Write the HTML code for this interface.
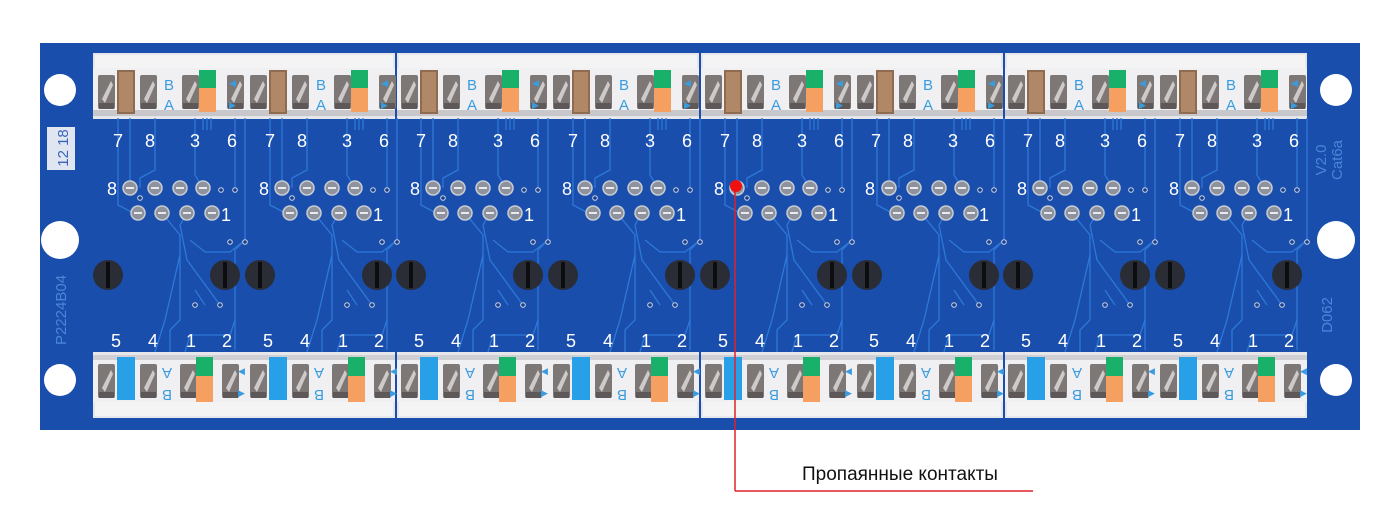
<!DOCTYPE html>
<html><head><meta charset="utf-8"><style>
html,body{margin:0;padding:0;background:#fff;width:1400px;height:512px;overflow:hidden}
svg{display:block}
</style></head><body>
<svg id="s" width="1400" height="512" viewBox="0 0 1400 512" xmlns="http://www.w3.org/2000/svg" font-family="Liberation Sans, sans-serif">
<rect x="40" y="43" width="1320" height="387" fill="#1a4ead"/>
<g fill="#fff">
<circle cx="60" cy="90" r="16"/><circle cx="60" cy="240" r="19"/><circle cx="60" cy="380" r="16"/>
<circle cx="1336" cy="90" r="16"/><circle cx="1336" cy="240" r="19"/><circle cx="1336" cy="380" r="16"/>
</g>
<g id="g"></g>
<rect x="47" y="127" width="28" height="43" fill="#dfe6f2"/>
<text transform="translate(68,148) rotate(-90)" font-size="15" fill="#3a64b6" text-anchor="middle">12 18</text>
<text transform="translate(66,310) rotate(-90)" font-size="15" fill="#4a86d8" text-anchor="middle">P2224B04</text>
<text transform="translate(1326,160) rotate(-90)" font-size="15" fill="#4a86d8" text-anchor="middle">V2.0</text>
<text transform="translate(1342,160) rotate(-90)" font-size="15" fill="#4a86d8" text-anchor="middle">Cat6a</text>
<text transform="translate(1332,315) rotate(-90)" font-size="15" fill="#4a86d8" text-anchor="middle">D062</text>
<g fill="#fff" font-size="18" text-anchor="middle">
<text y="147" x="118 150 195 232 270 302 347 384 421 453 498 535 573 605 650 687 725 757 802 839 876 908 953 990 1028 1060 1105 1142 1180 1212 1257 1294">78367836783678367836783678367836</text>
<text y="195" x="112 264 415 567 719 870 1022 1174">88888888</text>
<text y="221" x="226 378 529 681 833 984 1136 1288">11111111</text>
<text y="347" x="116 153 191 227 268 305 343 379 419 456 494 530 571 608 646 682 723 760 798 834 874 911 949 985 1026 1063 1101 1137 1178 1215 1253 1289">54125412541254125412541254125412</text>
</g>
<line x1="735" y1="186" x2="735" y2="491" stroke="#e0202a" stroke-width="1.5"/>
<line x1="735" y1="491" x2="1033" y2="491" stroke="#e0202a" stroke-width="1.5"/>
<circle cx="736" cy="186" r="6" fill="#f01010"/>
<text x="802" y="480" font-size="19" fill="#111">Пропаянные контакты</text>
</svg>
<script>
var g=document.getElementById('g'),h='';
function R(x,y,w,hh,f,extra){h+='<rect x="'+x+'" y="'+y+'" width="'+w+'" height="'+hh+'" fill="'+f+'" '+(extra||'')+'/>';}
function C(x,y,r,f,extra){h+='<circle cx="'+x+'" cy="'+y+'" r="'+r+'" fill="'+f+'" '+(extra||'')+'/>';}
function L(p,c){h+='<polyline points="'+p+'" fill="none" stroke="'+(c||'#2d78d8')+'" stroke-width="1.3"/>';}
function K(x,y){R(x,y,17,34,'#7d7776','rx="2"');h+='<polygon points="'+(x+4)+','+(y+24)+' '+(x+13)+','+(y+6)+' '+(x+15)+','+(y+10)+' '+(x+7)+','+(y+28)+'" fill="#cfcaca"/>';R(x+1,y+28,15,6,'#5e5958');}
for(var m=0;m<4;m++){var x=93+m*304;
 R(x,53,302,66,'#e6e7ea');R(x+2,55,298,14,'#f4f4f5');R(x,68,302,47,'#f0f0f2');R(x,110,302,6,'#c8c8cc');
 R(x,352,302,66,'#e6e7ea');R(x+2,402,298,14,'#f4f4f5');R(x,355,302,47,'#f0f0f2');R(x,355,302,5,'#d0d0d4');}
for(var i=0;i<8;i++){var o=95+Math.round(i*151.7);
 L((o+23)+',118 '+(o+23)+',205 '+(o+40)+',214');
 L((o+35)+',118 '+(o+35)+',188');
 L((o+60)+',118 '+(o+60)+',170 '+(o+45)+',178 '+(o+45)+',188');
 L((o+100)+',118 '+(o+100)+',175 '+(o+108)+',188');
 L((o+108)+',118 '+(o+108)+',130');L((o+112)+',118 '+(o+112)+',130');L((o+116)+',118 '+(o+116)+',130');
 L((o+140)+',118 '+(o+140)+',190');
 L((o+150)+',118 '+(o+150)+',240 '+(o+140)+',250 '+(o+140)+',350');
 L((o+67)+',213 '+(o+85)+',235 '+(o+85)+',320 '+(o+75)+',330 '+(o+75)+',352');
 L((o+92)+',213 '+(o+85)+',225 '+(o+92)+',260 '+(o+125)+',305');
 L((o+95)+',240 '+(o+110)+',252 '+(o+135)+',252 '+(o+150)+',240');
 L((o+85)+',255 '+(o+70)+',320 '+(o+60)+',352');
 L((o+110)+',305 '+(o+100)+',290');
 L((o+90)+',352 '+(o+95)+',335 '+(o+135)+',335 '+(o+140)+',320');
 [3,45,87,132].forEach(function(d){K(o+d,75);});
 R(o+22,70,18,44,'#8f6c50');R(o+24,72,14,40,'#b08868');
 R(o+104,70,17,18,'#19b06a');R(o+104,88,17,24,'#f5a060');
 h+='<text x="'+(o+69)+'" y="90" font-size="15" fill="#3a9ce0">B</text><text x="'+(o+69)+'" y="110" font-size="15" fill="#3a9ce0">A</text>';
 h+='<text x="'+(o+134)+'" y="86" font-size="9" fill="#3a9ce0">◀</text><text x="'+(o+134)+'" y="108" font-size="9" fill="#3a9ce0">▶</text>';
 [3,45,85,127].forEach(function(d){K(o+d,364);});
 R(o+22,357,18,43,'#28a0e8');
 R(o+101,357,17,19,'#19b06a');R(o+101,376,17,26,'#f5a060');
 h+='<text transform="translate('+(o+77)+',368) rotate(180)" font-size="15" fill="#3a9ce0">A</text><text transform="translate('+(o+77)+',390) rotate(180)" font-size="15" fill="#3a9ce0">B</text>';
 h+='<text x="'+(o+143)+'" y="374" font-size="9" fill="#3a9ce0">◀</text><text x="'+(o+143)+'" y="396" font-size="9" fill="#3a9ce0">▶</text>';
 [35,60,85,108].forEach(function(d){C(o+d,188,7,'#8d929c','stroke="#c8ccd4" stroke-width="1.5"');R(o+d-4,187,8,2,'#e8eaee');});
 [43,67,92,117].forEach(function(d){C(o+d,213,7,'#8d929c','stroke="#c8ccd4" stroke-width="1.5"');R(o+d-4,212,8,2,'#e8eaee');});
 var dot='stroke="#cfd6e4" stroke-width="1"';
 C(o+126,190,2.3,'#163e8c',dot);C(o+140,190,2.3,'#163e8c',dot);
 C(o+45,198,2.3,'#163e8c',dot);
 C(o+135,242,2.3,'#163e8c',dot);C(o+150,242,2.3,'#163e8c',dot);
 C(o+100,305,2.3,'#163e8c',dot);C(o+125,305,2.3,'#163e8c',dot);
 [13,130].forEach(function(d){C(o+d,275,15,'#2a2d35');R(o+d-2,262,4,26,'#0c0d10');});
}
g.innerHTML=h;
</script>
</body></html>
